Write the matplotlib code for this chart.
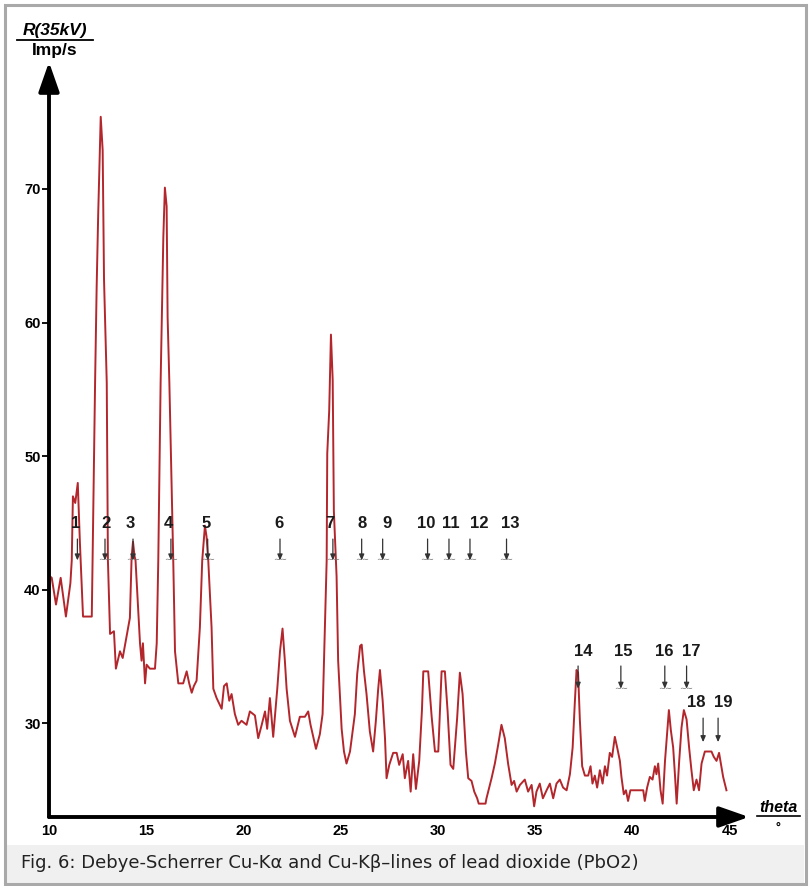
import matplotlib.pyplot as plt
from matplotlib import font_manager
from matplotlib.patches import Rectangle

# diffractogram: theta (deg) and count rate (Imp/s)
theta = [10.05, 10.14, 10.36, 10.60, 10.87, 11.10, 11.17, 11.23, 11.35, 11.48,
         11.59, 11.75, 12.20, 12.37, 12.45, 12.53, 12.66, 12.76, 12.83, 12.97,
         13.03, 13.14, 13.34, 13.44, 13.65, 13.79, 13.96, 14.16, 14.25, 14.32,
         14.40, 14.45, 14.68, 14.76, 14.83, 14.94, 15.02, 15.19, 15.45, 15.54,
         15.62, 15.74, 15.82, 15.88, 15.96, 16.05, 16.10, 16.19, 16.39, 16.48,
         16.65, 16.90, 17.08, 17.21, 17.34, 17.45, 17.59, 17.76, 17.88, 18.02,
         18.10, 18.19, 18.36, 18.45, 18.62, 18.88, 19.00, 19.14, 19.27, 19.39,
         19.56, 19.73, 19.90, 20.16, 20.33, 20.59, 20.76, 20.94, 21.11, 21.22,
         21.36, 21.53, 21.74, 21.88, 22.01, 22.13, 22.22, 22.39, 22.65, 22.90,
         23.16, 23.33, 23.45, 23.73, 23.93, 24.07, 24.19, 24.28, 24.31, 24.41,
         24.50, 24.59, 24.65, 24.79, 24.87, 25.05, 25.17, 25.30, 25.48, 25.73,
         25.85, 26.00, 26.08, 26.20, 26.33, 26.50, 26.67, 26.81, 26.93, 27.02,
         27.16, 27.28, 27.36, 27.50, 27.70, 27.88, 28.01, 28.19, 28.30, 28.47,
         28.60, 28.73, 28.87, 29.04, 29.18, 29.25, 29.50, 29.68, 29.85, 30.02,
         30.19, 30.36, 30.50, 30.65, 30.79, 30.99, 31.13, 31.27, 31.44, 31.56,
         31.73, 31.87, 32.02, 32.10, 32.45, 32.50, 32.76, 32.93, 33.10, 33.27,
         33.44, 33.61, 33.79, 33.92, 34.05, 34.22, 34.47, 34.64, 34.82, 34.95,
         35.07, 35.24, 35.40, 35.59, 35.76, 35.93, 36.10, 36.27, 36.44, 36.62,
         36.79, 36.93, 37.04, 37.13, 37.21, 37.30, 37.42, 37.56, 37.73, 37.85,
         37.95, 38.07, 38.19, 38.33, 38.47, 38.59, 38.70, 38.84, 38.96, 39.10,
         39.22, 39.36, 39.44, 39.56, 39.67, 39.78, 39.90, 40.56, 40.64, 40.76,
         40.90, 41.04, 41.16, 41.24, 41.33, 41.45, 41.56, 41.68, 41.80, 41.88,
         41.98, 42.10, 42.19, 42.28, 42.41, 42.53, 42.65, 42.79, 42.92, 43.04,
         43.16, 43.30, 43.43, 43.56, 43.73, 44.07, 44.19, 44.33, 44.46, 44.53,
         44.67, 44.84]
rate = [41.0, 40.9, 38.9, 40.9, 38.0, 40.5, 42.2, 47.0, 46.5, 48.0,
        43.5, 38.0, 38.0, 55.5, 62.6, 68.1, 75.4, 72.9, 63.2, 55.5,
        42.2, 36.7, 36.9, 34.1, 35.4, 34.9, 36.3, 37.9, 42.5, 43.6,
        42.5, 42.2, 36.0, 34.7, 36.0, 33.0, 34.4, 34.1, 34.1, 36.0,
        42.2, 55.5, 61.5, 66.4, 70.1, 68.7, 60.4, 55.5, 42.2, 35.4,
        33.0, 33.0, 33.9, 33.0, 32.3, 32.8, 33.2, 37.2, 42.2, 44.8,
        44.0, 42.2, 37.2, 32.6, 31.9, 31.1, 32.8, 33.0, 31.7, 32.2,
        30.7, 29.9, 30.2, 29.9, 30.9, 30.6, 28.9, 29.9, 30.9, 29.6,
        31.9, 29.0, 32.6, 35.4, 37.1, 34.7, 32.6, 30.2, 29.0, 30.5,
        30.5, 30.9, 29.9, 28.1, 29.2, 30.7, 37.2, 42.2, 50.2, 53.4,
        59.1, 55.7, 45.9, 41.0, 34.7, 29.6, 27.9, 27.0, 27.9, 30.7,
        33.7, 35.8, 35.9, 33.9, 32.2, 29.4, 27.9, 30.2, 32.6, 34.0,
        31.7, 28.9, 25.9, 26.9, 27.8, 27.8, 26.9, 27.7, 25.9, 27.2,
        24.9, 27.7, 25.1, 27.2, 31.0, 33.9, 33.9, 30.5, 27.9, 27.9,
        33.9, 33.9, 30.9, 26.9, 26.6, 30.4, 33.8, 32.2, 27.9, 25.9,
        25.7, 24.9, 24.4, 24.0, 24.0, 24.4, 25.9, 27.0, 28.4, 29.9,
        28.9, 27.0, 25.4, 25.7, 24.9, 25.4, 25.8, 24.9, 25.4, 23.8,
        24.9, 25.5, 24.4, 25.0, 25.5, 24.4, 25.5, 25.8, 25.2, 25.0,
        26.2, 28.2, 31.5, 34.0, 33.8, 30.3, 26.8, 26.1, 26.1, 26.8,
        25.5, 26.1, 25.2, 26.5, 25.5, 26.8, 26.1, 27.8, 27.5, 29.0,
        28.2, 27.2, 26.0, 24.7, 25.0, 24.2, 25.0, 25.0, 24.2, 25.2,
        26.0, 25.8, 26.8, 26.2, 27.0, 25.0, 24.0, 27.2, 29.5, 31.0,
        29.5, 28.2, 26.2, 24.0, 27.2, 29.7, 31.0, 30.3, 28.2, 26.5,
        25.0, 25.8, 25.0, 27.0, 27.9, 27.9, 27.5, 27.2, 27.8, 27.2,
        26.0, 25.0]

# numbered line markers
line_no = [str(i) for i in range(1, 20)]
line_theta = [11.46, 12.88, 14.32, 16.27, 18.16, 21.88, 24.60, 26.08, 27.16, 29.47,
              30.57, 31.65, 33.53, 37.21, 39.41, 41.67, 42.79, 43.64, 44.41]
label_theta = [11.39, 12.92, 14.20, 16.13, 18.06, 21.84, 24.45, 26.09, 27.38, 29.42,
               30.65, 32.11, 33.70, 37.47, 39.53, 41.64, 43.04, 43.30, 44.67]
label_level = [44.95] * 13 + [35.4] * 4 + [31.6] * 2
arrow_top = [43.8] * 13 + [34.3] * 4 + [30.4] * 2
arrow_tip = [42.2] * 13 + [32.6] * 4 + [28.6] * 2
with_wave = [False] + [True] * 12 + [False] + [True] * 3 + [False] * 2

x_ticks = [10, 15, 20, 25, 30, 35, 40, 45]
y_ticks = [30, 40, 50, 60, 70]
caption = "Fig. 6: Debye-Scherrer Cu-K\u03b1 and Cu-K\u03b2\u2013lines of lead dioxide (PbO2)"

names = {f.name for f in font_manager.fontManager.ttflist}
narrow = 'Liberation Sans Narrow' if 'Liberation Sans Narrow' in names else 'Liberation Sans'

W, H = 810, 886
fig = plt.figure(figsize=(W / 100, H / 100), dpi=100)


def fx(x):
    return x / W


def fy(y):
    return 1 - y / H


# caption band and frame
fig.patches.append(Rectangle((fx(6), fy(883)), fx(798), fy(845) - fy(883),
                             transform=fig.transFigure, fc='#f0f0f0', ec='none'))
fig.patches.append(Rectangle((fx(5), fy(884)), fx(801), fy(5) - fy(884),
                             transform=fig.transFigure, fill=False, ec='#a9a9a9', lw=2.2))

ax = fig.add_axes([fx(49), fy(817), fx(749) - fx(49), fy(62) - fy(817)])
ax.set_xlim(10, 46)
ax.set_ylim(23, 79.5)
for s in ax.spines.values():
    s.set_visible(False)

ax.plot(theta, rate, color='#b3262c', lw=1.4, zorder=3)

# axes drawn as arrows
arrow_kw = dict(arrowstyle='-|>,head_length=1.0,head_width=0.35', color='black', lw=2.8,
                mutation_scale=18, shrinkA=0, shrinkB=0)
ax.annotate('', xy=(1, 0), xytext=(0, 0), xycoords='axes fraction', arrowprops=arrow_kw,
            annotation_clip=False)
ax.annotate('', xy=(0, 1), xytext=(0, 0), xycoords='axes fraction', arrowprops=arrow_kw,
            annotation_clip=False)

ax.set_xticks(x_ticks)
ax.set_yticks(y_ticks)
ax.tick_params(axis='y', length=5, width=1.3, pad=1, labelsize=10.5)
ax.tick_params(axis='x', length=0, pad=5, labelsize=10.5)
for lab in ax.get_xticklabels() + ax.get_yticklabels():
    lab.set_fontfamily(narrow)
    lab.set_fontweight('bold')

# numbered markers
for n, t, tl, lv, a0, a1, wv in zip(line_no, line_theta, label_theta, label_level,
                                    arrow_top, arrow_tip, with_wave):
    ax.text(tl, lv, n, ha='center', va='center', fontsize=12, fontweight='bold',
            family='Liberation Sans', color='#1a1a1a', zorder=5)
    ax.annotate('', xy=(t, a1), xytext=(t, a0),
                arrowprops=dict(arrowstyle='-|>,head_length=0.35,head_width=0.15',
                                color='#333333', lw=0.9, shrinkA=0, shrinkB=0), zorder=5)
    if wv:
        ax.text(t, a1 + 0.05, '\u223c\u223c', ha='center', va='center', fontsize=6,
                color='#777777', zorder=4)

# axis titles
fig.text(fx(55), fy(31), 'R(35kV)', ha='center', va='center', fontsize=12.5,
         fontweight='bold', style='italic', family='Liberation Sans')
fig.add_artist(plt.Line2D([fx(17), fx(93)], [fy(40), fy(40)], color='black', lw=1.3))
fig.text(fx(55), fy(50), 'Imp/s', ha='center', va='center', fontsize=12.5,
         fontweight='bold', family='Liberation Sans')
fig.text(fx(778), fy(807), 'theta', ha='center', va='center', fontsize=11.5,
         fontweight='bold', style='italic', family='Liberation Sans')
fig.add_artist(plt.Line2D([fx(757), fx(800)], [fy(816), fy(816)], color='black', lw=1.2))
fig.text(fx(778), fy(828), '\u00b0', ha='center', va='center', fontsize=9,
         fontweight='bold', family='Liberation Sans')

fig.text(fx(21), fy(863), caption, ha='left', va='center', fontsize=13,
         family='DejaVu Sans', color='#222222')

fig.savefig('out.png', dpi=100)
